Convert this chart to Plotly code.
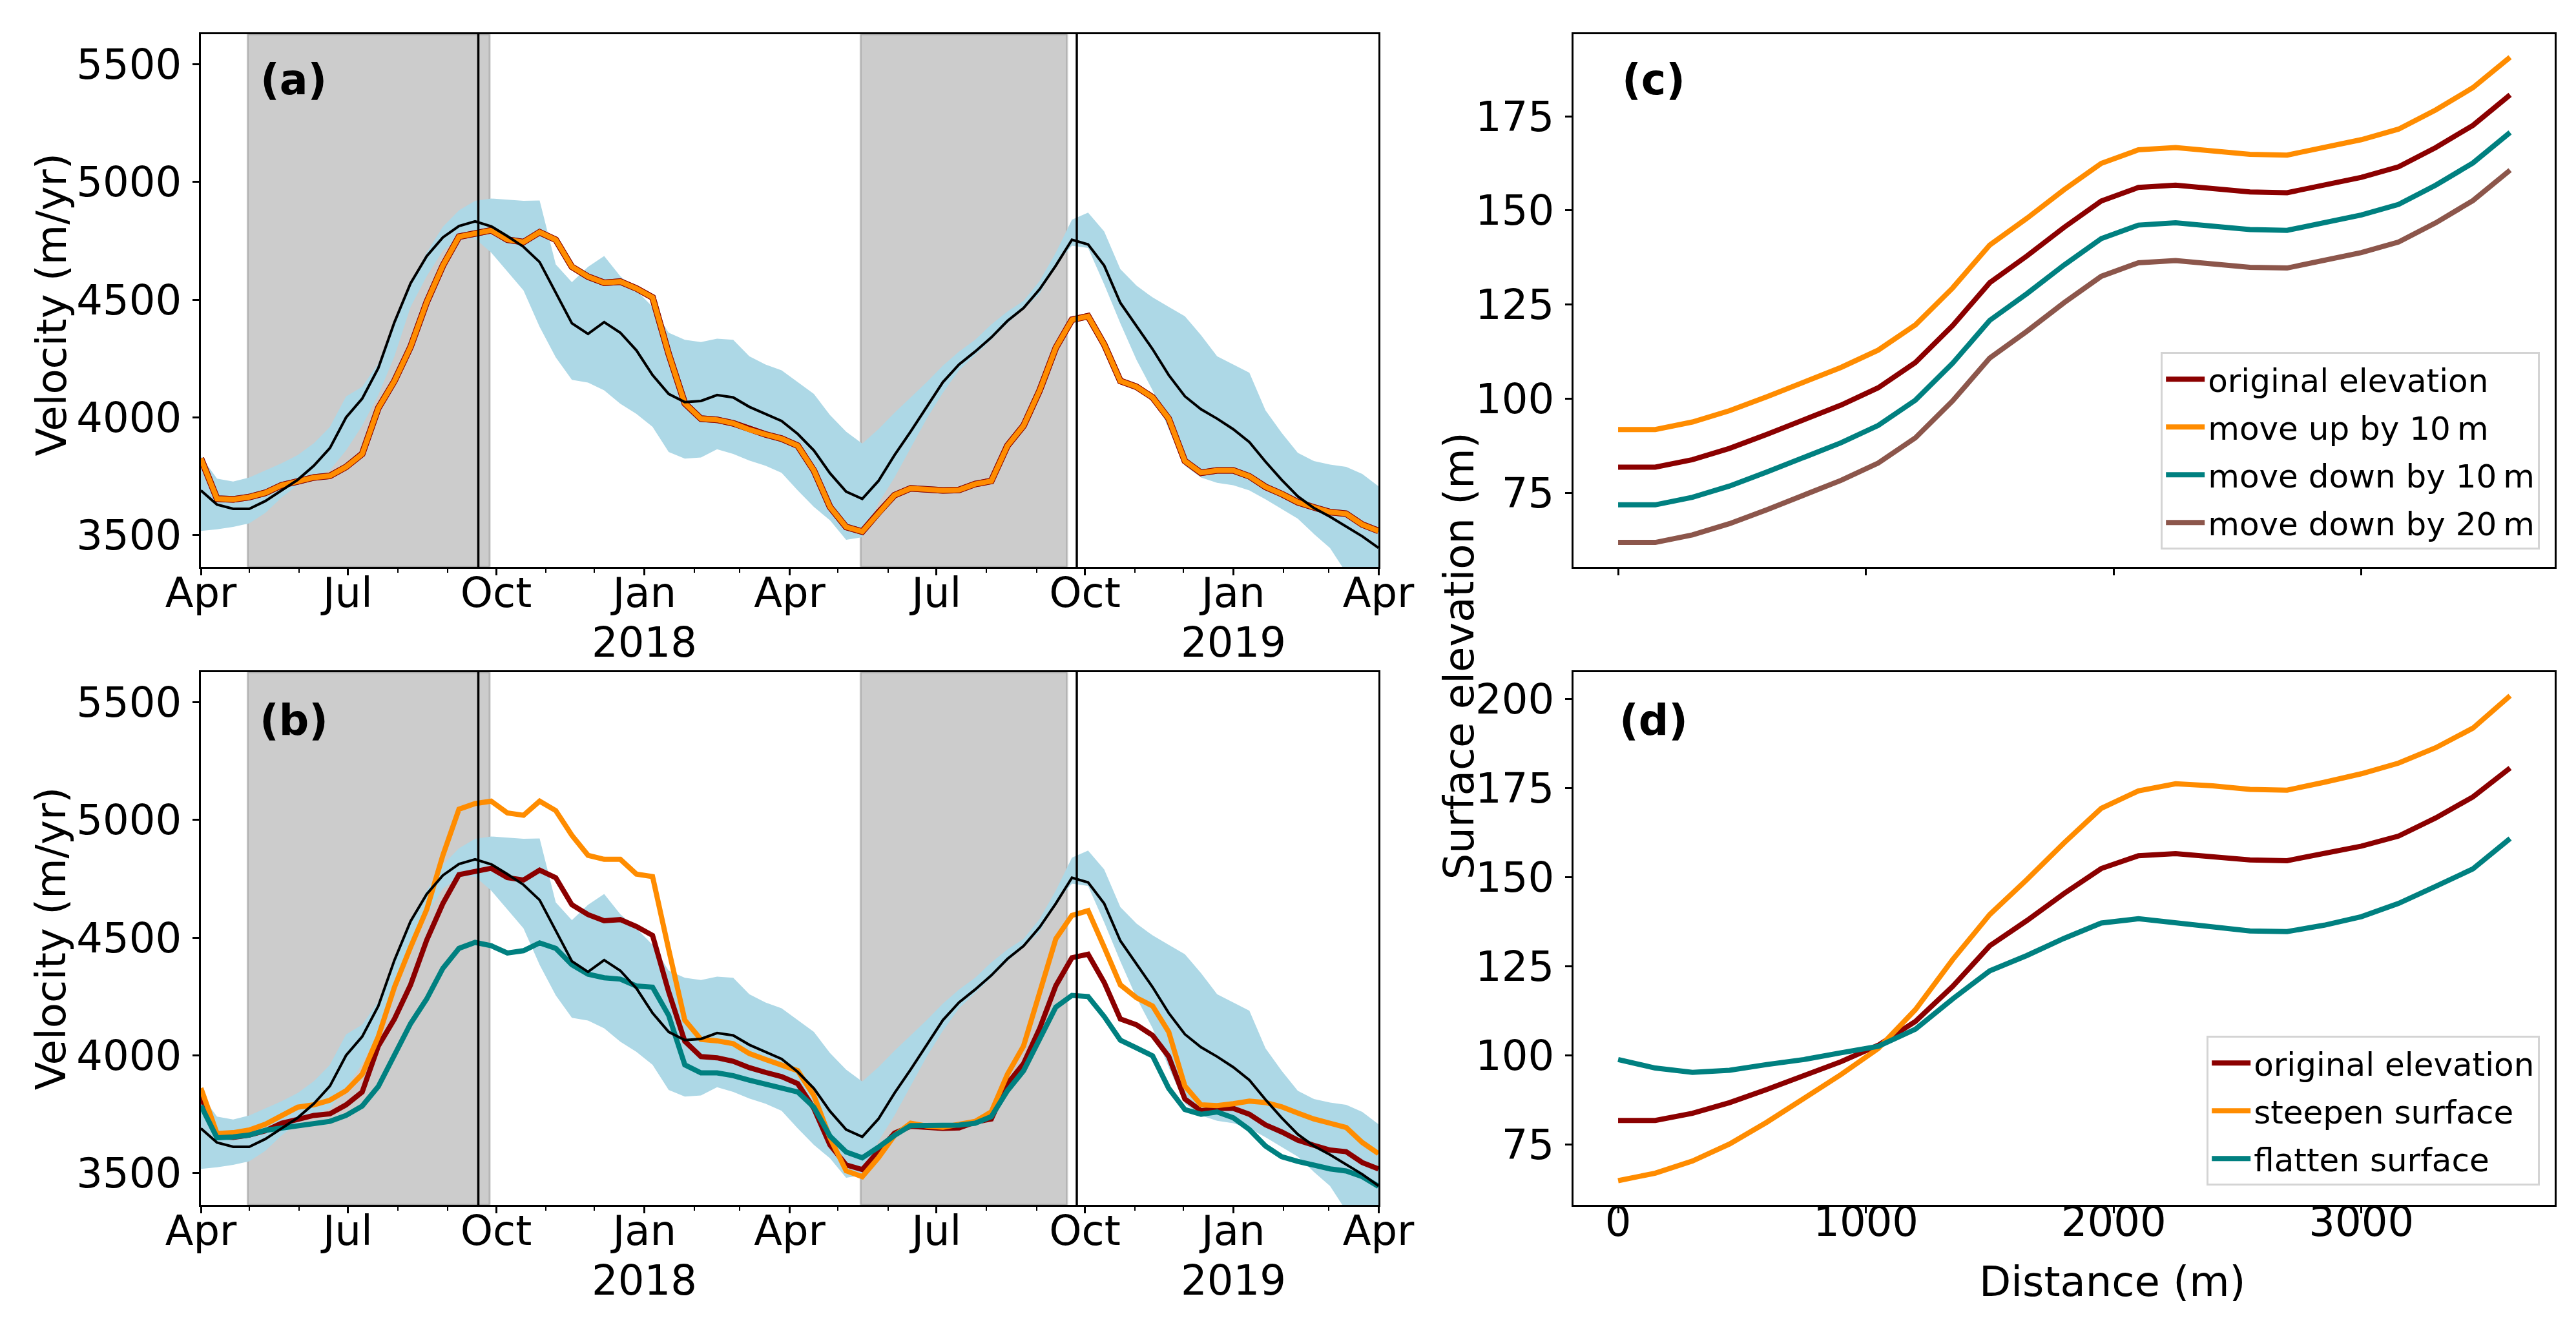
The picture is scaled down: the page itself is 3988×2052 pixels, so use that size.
import plotly.graph_objects as go

# ---------------- data ----------------
# time axis for panels (a) and (b), one sample every 10 days
dates = [
    "2017-04-01", "2017-04-11", "2017-04-21", "2017-05-01", "2017-05-11", "2017-05-21",
    "2017-05-31", "2017-06-10", "2017-06-20", "2017-06-30", "2017-07-10", "2017-07-20",
    "2017-07-30", "2017-08-09", "2017-08-19", "2017-08-29", "2017-09-08", "2017-09-18",
    "2017-09-28", "2017-10-08", "2017-10-18", "2017-10-28", "2017-11-07", "2017-11-17",
    "2017-11-27", "2017-12-07", "2017-12-17", "2017-12-27", "2018-01-06", "2018-01-16",
    "2018-01-26", "2018-02-05", "2018-02-15", "2018-02-25", "2018-03-07", "2018-03-17",
    "2018-03-27", "2018-04-06", "2018-04-16", "2018-04-26", "2018-05-06", "2018-05-16",
    "2018-05-26", "2018-06-05", "2018-06-15", "2018-06-25", "2018-07-05", "2018-07-15",
    "2018-07-25", "2018-08-04", "2018-08-14", "2018-08-24", "2018-09-03", "2018-09-13",
    "2018-09-23", "2018-10-03", "2018-10-13", "2018-10-23", "2018-11-02", "2018-11-12",
    "2018-11-22", "2018-12-02", "2018-12-12", "2018-12-22", "2019-01-01", "2019-01-11",
    "2019-01-21", "2019-01-31", "2019-02-10", "2019-02-20", "2019-03-02", "2019-03-12",
    "2019-03-22", "2019-04-01",
]

vel_observed = [
    3690, 3630, 3612, 3612, 3645, 3690, 3735, 3795, 3870, 4000, 4080, 4210, 4405, 4570,
    4685, 4765, 4813, 4833, 4812, 4770, 4725, 4660, 4530, 4400, 4355, 4405, 4360, 4285,
    4180, 4100, 4065, 4070, 4095, 4085, 4045, 4015, 3985, 3930, 3860, 3763, 3685, 3654,
    3730, 3840, 3940, 4045, 4150, 4225, 4280, 4340, 4410, 4465, 4545, 4645, 4755, 4735,
    4645, 4487, 4390, 4290, 4180, 4090, 4035, 3995, 3950, 3895, 3812, 3735, 3665, 3615,
    3578, 3537, 3495, 3446,
]

vel_upper = [
    3835, 3740, 3728, 3745, 3775, 3805, 3840, 3890, 3960, 4089, 4130, 4230, 4395, 4570,
    4700, 4810, 4880, 4920, 4930, 4925, 4920, 4922, 4650, 4575, 4640, 4686, 4600, 4540,
    4470, 4360, 4330, 4320, 4335, 4330, 4260, 4225, 4200, 4150, 4100, 4010, 3940, 3889,
    3950, 4020, 4085, 4150, 4220, 4280, 4330, 4395, 4450, 4495, 4580, 4700, 4840, 4870,
    4790, 4630, 4560, 4510, 4470, 4430, 4350, 4260, 4225, 4190, 4030, 3935, 3850, 3815,
    3800, 3790, 3760, 3708,
]

vel_lower = [
    3518, 3525, 3535, 3550, 3595, 3660, 3712, 3745, 3776, 3860, 3965, 4095, 4260, 4470,
    4600, 4708, 4760, 4760, 4700, 4620, 4540, 4385, 4255, 4160, 4148, 4115, 4058, 4015,
    3960, 3853, 3825, 3830, 3865, 3845, 3817, 3795, 3765, 3690, 3620, 3563, 3480, 3491,
    3635, 3745, 3870, 3995, 4105, 4200, 4265, 4330, 4400, 4460, 4525, 4650, 4730, 4720,
    4565, 4400, 4245, 4115, 3950, 3795, 3745, 3722, 3712, 3690, 3652, 3610, 3570, 3505,
    3445, 3340, 3320, 3320,
]

vel_original = [
    3826, 3655, 3652, 3662, 3680, 3712, 3728, 3745, 3752, 3790, 3845, 4040, 4155, 4300,
    4490, 4645, 4768, 4784, 4795, 4755, 4745, 4787, 4755, 4640, 4598, 4572, 4577, 4548,
    4510, 4270, 4060, 3995, 3990, 3975, 3948, 3928, 3910, 3880, 3775, 3620, 3535, 3515,
    3595, 3670, 3699, 3692, 3690, 3692, 3717, 3730, 3880, 3965, 4115, 4296, 4415, 4430,
    4310, 4155, 4130, 4085, 3995, 3815, 3765, 3775, 3775, 3750, 3705, 3675, 3640, 3618,
    3598, 3591, 3545, 3518,
]

vel_steepen = [
    3861, 3668, 3672, 3683, 3708, 3745, 3780, 3790, 3810, 3850, 3920, 4080, 4290, 4460,
    4620, 4850, 5046, 5070, 5080, 5030, 5020, 5080, 5040, 4935, 4850, 4833, 4833, 4770,
    4760, 4450, 4150, 4068, 4062, 4050, 4008, 3983, 3960, 3935, 3830, 3650, 3510, 3485,
    3565, 3660, 3712, 3700, 3695, 3705, 3720, 3760, 3920, 4040, 4260, 4495, 4595, 4615,
    4460, 4300, 4245, 4210, 4100, 3870, 3790, 3787, 3795, 3806, 3800, 3782, 3755, 3730,
    3712, 3694, 3630, 3583,
]

vel_flatten = [
    3787, 3650, 3654, 3662, 3682, 3692, 3700, 3710, 3720, 3745, 3785, 3868, 4000, 4135,
    4240, 4370, 4455, 4480, 4466, 4435, 4445, 4478, 4455, 4385, 4345, 4330, 4324, 4295,
    4290, 4170, 3960, 3926, 3926, 3914, 3895, 3877, 3860, 3845, 3780, 3657, 3590, 3565,
    3610, 3660, 3702, 3704, 3704, 3704, 3712, 3740, 3850, 3935, 4070, 4205, 4255, 4250,
    4165, 4065, 4032, 3998, 3860, 3770, 3750, 3760, 3735, 3685, 3615, 3570, 3550, 3533,
    3518, 3509, 3485, 3444,
]

# melt seasons (grey) and reference dates (vertical lines)
melt_seasons = [("2017-04-30", "2017-09-27"), ("2018-05-15", "2018-09-20")]
event_dates = ["2017-09-20", "2018-09-26"]

date_ticks = ["2017-04-01", "2017-07-01", "2017-10-01", "2018-01-01", "2018-04-01",
              "2018-07-01", "2018-10-01", "2019-01-01", "2019-04-01"]
date_labels = ["Apr", "Jul", "Oct", "Jan", "Apr", "Jul", "Oct", "Jan", "Apr"]
year_ticks = ["2018-01-01", "2019-01-01"]
year_labels = ["2018", "2019"]

# elevation profiles for panels (c) and (d)
distance = [0, 150, 300, 450, 600, 750, 900, 1050, 1200, 1350, 1500, 1650, 1800,
            1950, 2100, 2250, 2400, 2550, 2700, 2850, 3000, 3150, 3300, 3450, 3600]
elev_original = [81.8, 81.8, 83.8, 86.8, 90.5, 94.3, 98.3, 102.9, 109.6, 119.4, 130.8, 137.9, 145.5,
                 152.5, 156.1, 156.7, 155.7, 154.9, 154.7, 156.6, 158.8, 161.6, 166.7, 172.6, 180.7]
elev_up10 = [91.8, 91.8, 93.8, 96.8, 100.5, 104.3, 108.3, 112.9, 119.6, 129.4, 140.8, 147.9, 155.5,
             162.5, 166.1, 166.7, 165.7, 164.9, 164.7, 166.6, 168.8, 171.6, 176.7, 182.6, 190.7]
elev_down10 = [71.8, 71.8, 73.8, 76.8, 80.5, 84.3, 88.3, 92.9, 99.6, 109.4, 120.8, 127.9, 135.5,
               142.5, 146.1, 146.7, 145.7, 144.9, 144.7, 146.6, 148.8, 151.6, 156.7, 162.6, 170.7]
elev_down20 = [61.8, 61.8, 63.8, 66.8, 70.5, 74.3, 78.3, 82.9, 89.6, 99.4, 110.8, 117.9, 125.5,
               132.5, 136.1, 136.7, 135.7, 134.9, 134.7, 136.6, 138.8, 141.6, 146.7, 152.6, 160.7]
elev_steepen = [64.9, 67.0, 70.4, 75.2, 81.3, 88.0, 94.7, 102.0, 112.9, 126.9, 139.6, 149.4, 159.7,
                169.4, 174.3, 176.3, 175.7, 174.7, 174.5, 176.7, 179.1, 182.1, 186.4, 191.9, 201.0]
elev_flatten = [98.9, 96.5, 95.3, 95.9, 97.5, 98.9, 100.8, 102.6, 107.4, 115.9, 123.8, 128.1, 132.9,
                137.2, 138.4, 137.2, 136.0, 135.0, 134.8, 136.6, 139.0, 142.7, 147.5, 152.4, 160.9]

# ---------------- styling ----------------
FONT = "DejaVu Sans"
TICK_SIZE = 64
TITLE_SIZE = 64
LEGEND_SIZE = 50
DARKRED = "#8b0000"
ORANGE = "#ff8c00"
TEAL = "#008080"
BROWN = "#8c564b"
W = 8  # model line width

fig = go.Figure()


def band(xa, ya):
    fig.add_trace(go.Scatter(x=dates, y=vel_upper, mode="lines", line=dict(width=0),
                             xaxis=xa, yaxis=ya, showlegend=False, hoverinfo="skip"))
    fig.add_trace(go.Scatter(x=dates, y=vel_lower, mode="lines", line=dict(width=0),
                             fill="tonexty", fillcolor="#add8e6",
                             xaxis=xa, yaxis=ya, showlegend=False, hoverinfo="skip"))


def vline(xa, ya, y, color, width):
    fig.add_trace(go.Scatter(x=dates, y=y, mode="lines", line=dict(color=color, width=width),
                             xaxis=xa, yaxis=ya, showlegend=False))


# (a)
band("x", "y")
vline("x", "y", vel_original, BROWN, W + 2)
vline("x", "y", vel_original, DARKRED, W + 2)
vline("x", "y", vel_original, ORANGE, W)
vline("x", "y", vel_observed, "black", 4)

# (b)
band("x2", "y2")
vline("x2", "y2", vel_original, DARKRED, W)
vline("x2", "y2", vel_steepen, ORANGE, W)
vline("x2", "y2", vel_flatten, TEAL, W)
vline("x2", "y2", vel_observed, "black", 4)

# (c)
for y, c, name in [(elev_original, DARKRED, "original elevation"),
                   (elev_up10, ORANGE, "move up by 10\u2009m"),
                   (elev_down10, TEAL, "move down by 10\u2009m"),
                   (elev_down20, BROWN, "move down by 20\u2009m")]:
    fig.add_trace(go.Scatter(x=distance, y=y, mode="lines", name=name,
                             line=dict(color=c, width=8), xaxis="x3", yaxis="y3",
                             legend="legend", legendgroup=name))

# (d)
for y, c, name in [(elev_original, DARKRED, "original elevation"),
                   (elev_steepen, ORANGE, "steepen surface"),
                   (elev_flatten, TEAL, "flatten surface")]:
    fig.add_trace(go.Scatter(x=distance, y=y, mode="lines", name=name,
                             line=dict(color=c, width=8), xaxis="x4", yaxis="y4",
                             legend="legend2", legendgroup=name + "d"))

# shading and vertical lines
shapes = []
for xa, ya in [("x", "y"), ("x2", "y2")]:
    for s, e in melt_seasons:
        shapes.append(dict(type="rect", xref=xa, yref=ya + " domain", x0=s, x1=e, y0=0, y1=1,
                           fillcolor="rgba(128,128,128,0.4)",
                           line=dict(color="rgba(128,128,128,0.4)", width=3), layer="below"))
    for d in event_dates:
        shapes.append(dict(type="line", xref=xa, yref=ya + " domain", x0=d, x1=d, y0=0, y1=1,
                           line=dict(color="black", width=3.5), layer="above"))

base = dict(showline=True, mirror=True, linecolor="black", linewidth=3, ticks="outside",
            ticklen=10, tickwidth=3, tickcolor="black", showgrid=False, zeroline=False,
            tickfont=dict(family=FONT, size=TICK_SIZE, color="black"), automargin=False)

left = [303 / 3988, 2126 / 3988]
right = [2428 / 3988, 3947 / 3988]
top = [1 - 870 / 2052, 1 - 45 / 2052]
bottom = [1 - 1858 / 2052, 1 - 1033 / 2052]

date_axis = dict(base, type="date", range=["2017-04-01", "2019-04-01"], tickvals=date_ticks,
                 ticktext=date_labels, ticklabelstandoff=-28,
                 minor=dict(ticks="outside", dtick="M1", tick0="2017-04-01", ticklen=6,
                            tickwidth=2, tickcolor="black"))
vel_axis = dict(base, range=[3365, 5628], tickvals=[3500, 4000, 4500, 5000, 5500],
                ticklabelstandoff=4)
dist_axis = dict(base, range=[-180, 3780], tickvals=[0, 1000, 2000, 3000],
                 ticklabelstandoff=-42)

legend_style = dict(xanchor="right", yanchor="bottom",
                    font=dict(family=FONT, size=LEGEND_SIZE, color="black"), bgcolor="white",
                    bordercolor="#d4d4d4", borderwidth=3, tracegroupgap=6, itemwidth=60)

fig.update_layout(
    width=3988, height=2052,
    margin=dict(l=0, r=0, t=0, b=0),
    paper_bgcolor="white", plot_bgcolor="white",
    font=dict(family=FONT, color="black"),
    xaxis=dict(date_axis, domain=left, anchor="y"),
    yaxis=dict(vel_axis, domain=top, anchor="x"),
    xaxis2=dict(date_axis, domain=left, anchor="y2"),
    yaxis2=dict(vel_axis, domain=bottom, anchor="x2"),
    xaxis3=dict(dist_axis, domain=right, anchor="y3", showticklabels=False),
    yaxis3=dict(base, domain=top, anchor="x3", range=[55.3, 196.8],
                tickvals=[75, 100, 125, 150, 175], ticklabelstandoff=4),
    xaxis4=dict(dist_axis, domain=right, anchor="y4"),
    yaxis4=dict(base, domain=bottom, anchor="x4", range=[58.1, 207.6],
                tickvals=[75, 100, 125, 150, 175, 200], ticklabelstandoff=4),
    shapes=shapes,
    legend=dict(legend_style, x=0.984, y=0.589),
    legend2=dict(legend_style, x=0.984, y=0.109),
    showlegend=True,
)

ann = []
# year line under the January ticks
for xa, ya in [("x", "y"), ("x2", "y2")]:
    for d, t in zip(year_ticks, year_labels):
        ann.append(dict(text=t, x=d, y=-117 / 825, xref=xa, yref=ya + " domain",
                        showarrow=False, xanchor="center", yanchor="middle",
                        font=dict(family=FONT, size=TICK_SIZE, color="black")))
for txt, x, y in [("(a)", 0.112, 0.9435), ("(b)", 0.112, 0.4605),
                  ("(c)", 0.640, 0.9435), ("(d)", 0.640, 0.4605)]:
    ann.append(dict(text="<b>" + txt + "</b>", x=x, y=y, xref="paper", yref="paper",
                    showarrow=False, xanchor="center", yanchor="middle",
                    font=dict(family=FONT, size=65, color="black")))
for txt, x, y in [("Velocity (m/yr)", 0.018, 0.774), ("Velocity (m/yr)", 0.018, 0.2956),
                  ("Surface elevation (m)", 0.5644, 0.509)]:
    ann.append(dict(text=txt, x=x, y=y, xref="paper", yref="paper", textangle=-90,
                    showarrow=False, xanchor="center", yanchor="middle",
                    font=dict(family=FONT, size=TITLE_SIZE, color="black")))
ann.append(dict(text="Distance (m)", x=0.818, y=0.0366, xref="paper", yref="paper",
                showarrow=False, xanchor="center", yanchor="middle",
                font=dict(family=FONT, size=TITLE_SIZE, color="black")))
fig.update_layout(annotations=ann)

fig.write_html("out.html")
